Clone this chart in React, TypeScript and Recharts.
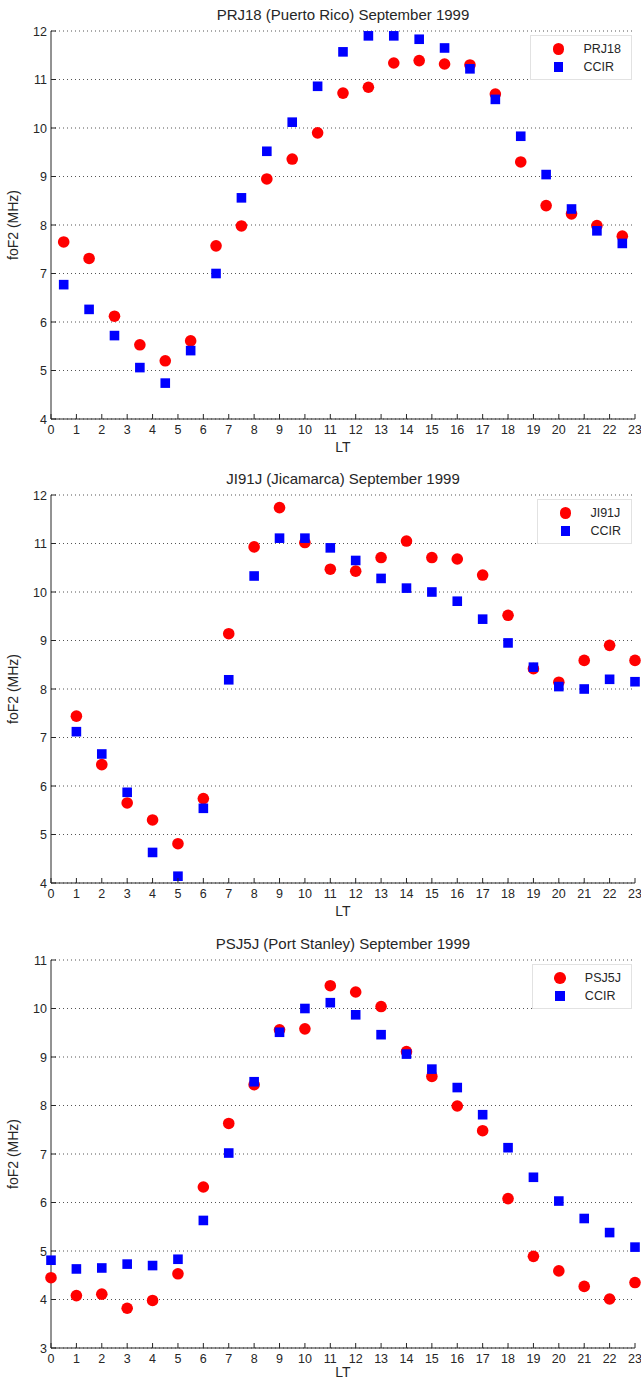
import { ScatterChart, Scatter, XAxis, YAxis, CartesianGrid } from "recharts";

// hours (LT) and foF2 values
const prjHours = [0.5, 1.5, 2.5, 3.5, 4.5, 5.5, 6.5, 7.5, 8.5, 9.5, 10.5, 11.5, 12.5, 13.5, 14.5, 15.5, 16.5, 17.5, 18.5, 19.5, 20.5, 21.5, 22.5];
const prjObs = [7.65, 7.31, 6.12, 5.53, 5.2, 5.61, 7.57, 7.98, 8.95, 9.36, 9.9, 10.72, 10.84, 11.34, 11.39, 11.32, 11.3, 10.7, 9.3, 8.4, 8.23, 7.99, 7.77];
const prjCcir = [6.77, 6.26, 5.72, 5.06, 4.74, 5.41, 7.0, 8.56, 9.52, 10.12, 10.86, 11.57, 11.9, 11.9, 11.83, 11.65, 11.22, 10.59, 9.83, 9.04, 8.33, 7.88, 7.62];

const jiHours = [1, 2, 3, 4, 5, 6, 7, 8, 9, 10, 11, 12, 13, 14, 15, 16, 17, 18, 19, 20, 21, 22, 23];
const jiObs = [7.44, 6.44, 5.65, 5.3, 4.81, 5.74, 9.14, 10.93, 11.74, 11.02, 10.47, 10.43, 10.71, 11.05, 10.71, 10.68, 10.35, 9.52, 8.42, 8.14, 8.59, 8.9, 8.59];
const jiCcir = [7.12, 6.66, 5.87, 4.63, 4.14, 5.54, 8.19, 10.33, 11.11, 11.11, 10.91, 10.65, 10.28, 10.08, 10.0, 9.81, 9.44, 8.95, 8.45, 8.05, 8.0, 8.2, 8.15];

const psHours = [0, 1, 2, 3, 4, 5, 6, 7, 8, 9, 10, 11, 12, 13, 14, 15, 16, 17, 18, 19, 20, 21, 22, 23];
const psObs = [4.45, 4.08, 4.11, 3.82, 3.98, 4.53, 6.32, 7.63, 8.43, 9.56, 9.58, 10.47, 10.34, 10.04, 9.11, 8.6, 7.99, 7.48, 6.08, 4.89, 4.59, 4.27, 4.01, 4.35];
const psCcir = [4.81, 4.63, 4.65, 4.73, 4.7, 4.83, 5.63, 7.02, 8.49, 9.51, 10.0, 10.12, 9.87, 9.46, 9.06, 8.75, 8.37, 7.81, 7.13, 6.52, 6.03, 5.67, 5.38, 5.08];

const xTicks = [0, 1, 2, 3, 4, 5, 6, 7, 8, 9, 10, 11, 12, 13, 14, 15, 16, 17, 18, 19, 20, 21, 22, 23];
const yTicksA = [4, 5, 6, 7, 8, 9, 10, 11, 12];
const yTicksB = [3, 4, 5, 6, 7, 8, 9, 10, 11];

const FONT = '"Liberation Sans", Arial, sans-serif';
const INK = "#262626";
const W = 641;

const toPoints = (hours: number[], vals: number[]) => hours.map((h, i) => ({ lt: h, fof2: vals[i] }));

const RedDot = (p: any) => <circle cx={p.cx} cy={p.cy} r={5.8} fill="#ff0000" />;
const BlueSq = (p: any) => <rect x={p.cx - 4.8} y={p.cy - 4.8} width={9.6} height={9.6} fill="#0000ff" />;

const BottomTick = ({ x, y, payload }: any) => (
  <g>
    <line x1={x} x2={x} y1={y} y2={y - 5} stroke={INK} />
    <text x={x} y={y + 15} textAnchor="middle" fontSize={12.5} fill={INK} fontFamily={FONT}>{payload.value}</text>
  </g>
);
const TopTick = ({ x, y }: any) => <line x1={x} x2={x} y1={y} y2={y + 5} stroke={INK} />;
const LeftTick = ({ x, y, payload }: any) => (
  <g>
    <line x1={x} x2={x + 5} y1={y} y2={y} stroke={INK} />
    <text x={x - 4} y={y + 4.5} textAnchor="end" fontSize={12.5} fill={INK} fontFamily={FONT}>{payload.value}</text>
  </g>
);
const RightTick = ({ x, y }: any) => <line x1={x} x2={x - 5} y1={y} y2={y} stroke={INK} />;

function Legend({ name }: { name: string }) {
  const row = { display: "flex", alignItems: "center", height: 18 } as const;
  const mark = { width: 16, display: "flex", justifyContent: "center", marginRight: 17 } as const;
  return (
    <div style={{ position: "absolute", top: 35, right: 9, background: "#fff", border: "1px solid #e2e2e2",
      padding: "4px 10px 3px 19px", fontSize: 12.5, color: INK, fontFamily: FONT, lineHeight: "18px" }}>
      <div style={row}>
        <span style={mark}><span style={{ width: 11.6, height: 11.6, borderRadius: "50%", background: "#ff0000" }} /></span>
        {name}
      </div>
      <div style={row}>
        <span style={mark}><span style={{ width: 9.6, height: 9.6, background: "#0000ff" }} /></span>
        CCIR
      </div>
    </div>
  );
}

function Panel({ top, height, axisH, ltOffset, title, name, obs, ccir, yTicks }: {
  top: number; height: number; axisH: number; ltOffset: number; title: string; name: string;
  obs: { lt: number; fof2: number }[]; ccir: { lt: number; fof2: number }[]; yTicks: number[];
}) {
  const dom = [yTicks[0], yTicks[yTicks.length - 1]];
  return (
    <div style={{ position: "absolute", left: 0, top, width: W, height }}>
      <ScatterChart width={W} height={height} margin={{ top: 31, right: 6, bottom: 0, left: 0 }}>
        <CartesianGrid vertical={false} stroke="#555" strokeDasharray="1 3" />
        <XAxis type="number" dataKey="lt" domain={[0, 23]} ticks={xTicks} interval={0} height={axisH}
          tickSize={0} tickMargin={0} tickLine={false} stroke={INK} tick={<BottomTick />}
          label={{ value: "LT", position: "insideBottom", offset: ltOffset, fontSize: 14, fill: INK, fontFamily: FONT }} />
        <XAxis xAxisId="top" orientation="top" type="number" domain={[0, 23]} ticks={xTicks} interval={0}
          height={0} tickSize={0} tickMargin={0} tickLine={false} stroke={INK} tick={<TopTick />} />
        <YAxis type="number" dataKey="fof2" domain={dom} ticks={yTicks}
          interval={0} width={51} tickSize={0} tickMargin={0} tickLine={false} stroke={INK} tick={<LeftTick />}
          label={{ value: "foF2 (MHz)", angle: -90, position: "insideLeft", offset: 13, fontSize: 14, fill: INK,
            fontFamily: FONT, style: { textAnchor: "middle" } }} />
        <YAxis yAxisId="right" orientation="right" type="number" domain={dom}
          ticks={yTicks} interval={0} width={0} tickSize={0} tickMargin={0} tickLine={false} stroke={INK}
          tick={<RightTick />} />
        <Scatter name={name} data={obs} shape={RedDot} isAnimationActive={false} />
        <Scatter name="CCIR" data={ccir} shape={BlueSq} isAnimationActive={false} />
      </ScatterChart>
      <div style={{ position: "absolute", top: 6, left: 51, width: 584, textAlign: "center", fontSize: 15,
        color: INK, fontFamily: FONT, lineHeight: "18px" }}>{title}</div>
      <Legend name={name} />
    </div>
  );
}

export default function App() {
  return (
    <div style={{ position: "absolute", left: 0, top: 0, width: W, height: 1381, background: "#fff", overflow: "hidden" }}>
      <Panel top={0} height={460} axisH={41} ltOffset={8} title="PRJ18 (Puerto Rico) September 1999" name="PRJ18"
        obs={toPoints(prjHours, prjObs)} ccir={toPoints(prjHours, prjCcir)} yTicks={yTicksA} />
      <Panel top={464} height={460} axisH={41} ltOffset={8} title="JI91J (Jicamarca) September 1999" name="JI91J"
        obs={toPoints(jiHours, jiObs)} ccir={toPoints(jiHours, jiCcir)} yTicks={yTicksA} />
      <Panel top={929} height={452} axisH={33} ltOffset={4} title="PSJ5J (Port Stanley) September 1999" name="PSJ5J"
        obs={toPoints(psHours, psObs)} ccir={toPoints(psHours, psCcir)} yTicks={yTicksB} />
    </div>
  );
}
